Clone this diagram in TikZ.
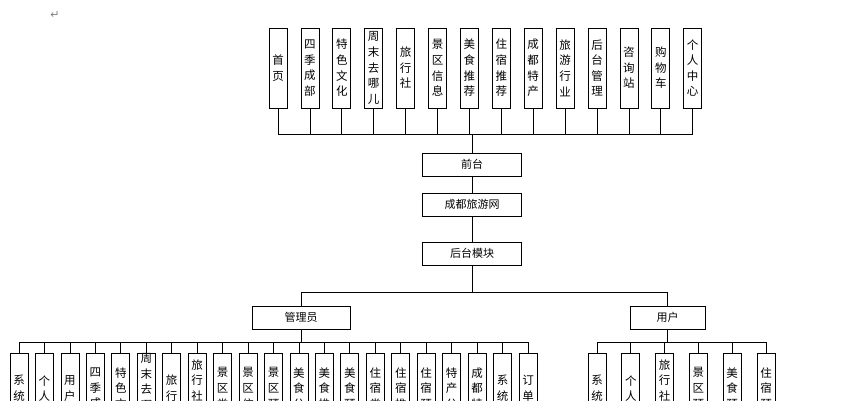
\documentclass[tikz,border=0pt]{standalone}
\usepackage{fontspec}
\setmainfont{Noto Sans CJK SC}
\newfontfamily\djv{DejaVu Sans}
\begin{document}
\begin{tikzpicture}[x=1pt,y=-1pt,
  vbox/.style={draw,line width=0.8pt,minimum width=18pt,align=center,inner sep=0pt,font=\fontsize{11.5}{15.6}\selectfont},
  hbox/.style={draw,line width=0.8pt,minimum width=99pt,minimum height=23pt,inner sep=0pt,font=\fontsize{11}{13}\selectfont},
  ln/.style={line width=0.8pt}]
\useasboundingbox (0,0) rectangle (855,400);
\clip (0,0) rectangle (855,400);
\node[text=gray,font=\djv\fontsize{11}{13}\selectfont] (ret) at (55,15) {↵};
% top boxes
\foreach \t [count=\i from 0] in {首\\页,四\\季\\成\\部,特\\色\\文\\化,周\\末\\去\\哪\\儿,旅\\行\\社,景\\区\\信\\息,美\\食\\推\\荐,住\\宿\\推\\荐,成\\都\\特\\产,旅\\游\\行\\业,后\\台\\管\\理,咨\\询\\站,购\\物\\车,个\\人\\中\\心}{
  \node[vbox,minimum height=80pt] (t\i) at ({278+31.9*\i},68) {\t};
}
\coordinate (tbus) at (472,134);
\node[hbox] (qt) at (472,164.5) {前台};
\node[hbox] (cd) at (472,204.5) {成都旅游网};
\node[hbox] (ht) at (472,253.5) {后台模块};
\foreach \i in {0,...,13}{\draw[ln] (t\i.south) |- (tbus);}
\draw[ln] (tbus) -- (qt.north);
\draw[ln] (qt) -- (cd);
\draw[ln] (cd) -- (ht);
\node[hbox,minimum width=98pt] (gl) at (301,317.5) {管理员};
\node[hbox,minimum width=75pt] (yh) at (667.5,317.5) {用户};
\coordinate (hb) at (472,292);
\draw[ln] (ht.south) -- (hb);
\draw[ln] (hb) -| (gl.north);
\draw[ln] (hb) -| (yh.north);
\coordinate (gbus) at (301,342);
\draw[ln] (gl.south) -- (gbus);
\foreach \t [count=\i from 0] in {系\\统,个\\人,用\\户,四\\季\\成,特\\色\\文,周\\末\\去\\哪\\儿,旅\\行,旅\\行\\社\\管,景\\区\\类,景\\区\\信,景\\区\\预,美\\食\\分,美\\食\\推,美\\食\\预,住\\宿\\类,住\\宿\\推,住\\宿\\预,特\\产\\分,成\\都\\特,系\\统,订\\单}{
  \node[vbox,minimum height=70pt,anchor=north] (a\i) at ({19+25.45*\i},353) {\t};
  \draw[ln] (a\i.north) |- (gbus);
}
\coordinate (ubus) at (667.5,342);
\draw[ln] (yh.south) -- (ubus);
\foreach \t [count=\i from 0] in {系\\统,个\\人,旅\\行\\社\\管,景\\区\\预,美\\食\\预,住\\宿\\预}{
  \node[vbox,minimum height=70pt,anchor=north] (u\i) at ({597+33.8*\i},353) {\t};
  \draw[ln] (u\i.north) |- (ubus);
}
\end{tikzpicture}
\end{document}
